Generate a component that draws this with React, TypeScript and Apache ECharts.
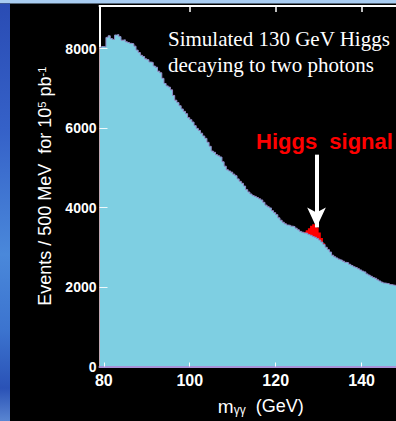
import React, { useEffect, useRef } from "react";
import * as echarts from "echarts";

// Histogram: 500 MeV bins starting at 79 GeV
const binStart = 79.0;
const binWidth = 0.5;
const background = [
  8030, 8050, 8040, 8280, 8320, 8250, 8230, 8340, 8350, 8300,
  8210, 8220, 8170, 8150, 8130, 8120, 8060, 7960, 7900, 7830,
  7800, 7740, 7720, 7660, 7650, 7560, 7530, 7430, 7390, 7250,
  7120, 7060, 7030, 6960, 6820, 6700, 6640, 6560, 6480, 6420,
  6360, 6260, 6210, 6150, 6060, 5990, 5940, 5870, 5800, 5740,
  5640, 5540, 5420, 5390, 5330, 5300, 5270, 5150, 5040, 4950,
  4920, 4890, 4840, 4800, 4720, 4660, 4610, 4540, 4450, 4390,
  4340, 4300, 4280, 4250, 4220, 4190, 4130, 4060, 4020, 3990,
  3920, 3870, 3820, 3740, 3680, 3630, 3590, 3560, 3550, 3530,
  3520, 3480, 3440, 3400, 3380, 3360, 3350, 3320, 3300, 3270,
  3250, 3220, 3180, 3130, 3070, 3000, 2940, 2880, 2800, 2760,
  2730, 2700, 2680, 2650, 2620, 2610, 2570, 2540, 2510, 2490,
  2460, 2430, 2400, 2380, 2330, 2300, 2270, 2240, 2220, 2180,
  2150, 2120, 2100, 2090, 2080, 2060, 2050, 2040,
];
const signalBins = [126.5, 127.0, 127.5, 128.0, 128.5, 129.0, 129.5, 130.0, 130.5, 131.0];
const signalValues = [30, 80, 160, 240, 310, 330, 280, 190, 100, 30];

const xTicks = [80, 100, 120, 140];
const xTopTicks = [100, 120, 140];
const yTicks = [0, 2000, 4000, 6000, 8000];
const xRange = [79, 148];
const yRange = [0, 9070];

const arrowX = 129.5;
const arrowFrom = 5330;
const arrowTo = 3500;

const titleLines = "Simulated 130 GeV Higgs\ndecaying to two photons";
const signalLabel = "Higgs  signal";

export default function App() {
  const ref = useRef<HTMLDivElement>(null);
  useEffect(() => {
    const chart = echarts.init(ref.current!, null, { renderer: "svg" });
    const bgPts: number[][] = background.map((v, i) => [binStart + i * binWidth, v]);
    bgPts.push([binStart + background.length * binWidth, background[background.length - 1]]);
    const totPts: number[][] = background.map((v, i) => {
      const x = binStart + i * binWidth;
      const k = signalBins.indexOf(x);
      return [x, v + (k >= 0 ? signalValues[k] : 0)];
    });
    totPts.push([binStart + background.length * binWidth, background[background.length - 1]]);

    chart.setOption({
      animation: false,
      backgroundColor: "#000",
      grid: { left: 99.5, top: 6, width: 298.4, height: 360.5, containLabel: false },
      xAxis: [
        {
          type: "value",
          min: xRange[0],
          max: xRange[1],
          position: "bottom",
          z: 5,
          splitLine: { show: false },
          axisLine: { show: true, onZero: false, lineStyle: { color: "#a892d8", width: 2 } },
          axisTick: { show: true, inside: true, length: 4, customValues: xTicks, lineStyle: { color: "#ffffff", width: 1 } },
          axisLabel: {
            customValues: xTicks,
            formatter: (v: number) => String(v),
            color: "#ffffff",
            fontSize: 16,
            fontWeight: "bold",
            fontFamily: "Liberation Sans, Arial, sans-serif",
            margin: 6,
          },
          name: "{m|m}{sub|γγ}{a|  (GeV)}",
          nameLocation: "middle",
          nameGap: 30,
          nameTextStyle: {
            padding: [0, 0, 0, 26],
            rich: {
              m: { fontSize: 19, color: "#fff", fontFamily: "Liberation Sans, Arial, sans-serif" },
              sub: { fontSize: 12, color: "#fff", verticalAlign: "bottom", fontFamily: "Liberation Sans, Arial, sans-serif" },
              a: { fontSize: 18, color: "#fff", fontFamily: "Liberation Sans, Arial, sans-serif" },
            },
          },
        },
        {
          type: "value",
          min: xRange[0],
          max: xRange[1],
          position: "top",
          z: 5,
          splitLine: { show: false },
          axisLine: { show: true, onZero: false, lineStyle: { color: "#ffffff", width: 2 } },
          axisTick: { show: true, inside: true, length: 6, customValues: xTopTicks, lineStyle: { color: "#ffffff", width: 1.5 } },
          axisLabel: { show: false },
        },
      ],
      yAxis: [
        {
          type: "value",
          min: yRange[0],
          max: yRange[1],
          position: "left",
          splitLine: { show: false },
          axisLine: { show: true, onZero: false, lineStyle: { color: "#ffffff", width: 2 } },
          axisTick: { show: false },
          axisLabel: {
            customValues: yTicks,
            formatter: (v: number) => String(v),
            color: "#ffffff",
            fontSize: 14,
            fontWeight: "bold",
            fontFamily: "Liberation Sans, Arial, sans-serif",
            margin: 3,
          },
          name: "{a|Events / 500 MeV  for 10}{s|5}{a| pb}{s|-1}",
          nameLocation: "middle",
          nameRotate: 90,
          nameGap: 44,
          nameTextStyle: {
            rich: {
              a: { fontSize: 18, color: "#fff", fontFamily: "Liberation Sans, Arial, sans-serif" },
              s: { fontSize: 11, color: "#fff", verticalAlign: "top", fontFamily: "Liberation Sans, Arial, sans-serif" },
            },
          },
        },
        {
          type: "value",
          min: yRange[0],
          max: yRange[1],
          position: "left",
          z: 5,
          splitLine: { show: false },
          axisLine: { show: false },
          axisTick: { show: true, inside: true, length: 8, customValues: yTicks.slice(1), lineStyle: { color: "rgba(255,255,255,0.85)", width: 1 } },
          axisLabel: { show: false },
        },
      ],
      series: [
        {
          type: "line",
          name: "signal",
          step: "end",
          data: totPts,
          showSymbol: false,
          z: 2,
          lineStyle: { width: 0, color: "#ff0000" },
          areaStyle: { color: "#ff0000", opacity: 1 },
          silent: true,
        },
        {
          type: "line",
          name: "background",
          step: "end",
          data: bgPts,
          showSymbol: false,
          z: 3,
          lineStyle: { width: 1, color: "#8a8cc8" },
          areaStyle: { color: "#7ecfe2", opacity: 1 },
          silent: true,
          markLine: {
            silent: true,
            z: 6,
            symbol: ["none", "arrow"],
            symbolSize: [14, 20],
            label: { show: false },
            lineStyle: { color: "#ffffff", width: 4, type: "solid" },
            data: [[{ coord: [arrowX, arrowFrom] }, { coord: [arrowX, arrowTo] }]],
          },
        },
      ],
      graphic: [
        { type: "rect", shape: { x: 0, y: 0, width: 396, height: 3.5 }, style: { fill: "#a9cdf2" } },
        {
          type: "rect",
          shape: { x: 0, y: 3.5, width: 10, height: 418 },
          style: {
            fill: new echarts.graphic.LinearGradient(0, 0, 0, 1, [
              { offset: 0, color: "#2a4cb4" },
              { offset: 0.3, color: "#3561c8" },
              { offset: 0.6, color: "#4a88da" },
              { offset: 0.78, color: "#3c74cf" },
              { offset: 0.92, color: "#2a52b6" },
              { offset: 1, color: "#5a86d2" },
            ]),
          },
        },
        {
          type: "text",
          x: 168,
          y: 26,
          style: {
            text: titleLines,
            fill: "#ffffff",
            font: "21px 'Liberation Serif', 'Times New Roman', serif",
            lineHeight: 26,
          },
        },
        {
          type: "text",
          x: 256,
          y: 130,
          style: {
            text: signalLabel,
            fill: "#ff0000",
            font: "bold 22px 'Liberation Sans', Arial, sans-serif",
          },
        },
      ],
    });
    return () => chart.dispose();
  }, []);
  return (
    <div
      ref={ref}
      style={{ position: "absolute", left: 0, top: 0, width: 396, height: 421, background: "#000" }}
    />
  );
}
